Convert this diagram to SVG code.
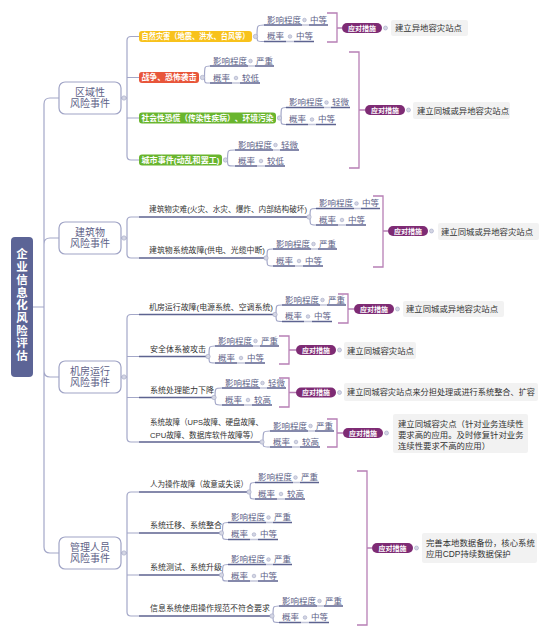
<svg xmlns="http://www.w3.org/2000/svg" width="553" height="638" viewBox="0 0 553 638">
<style>
text{font-family:'Liberation Sans','Noto Sans CJK SC',sans-serif;dominant-baseline:central}
.root{fill:#5c6496}
.rt{fill:#fff;font-size:11.5px;font-weight:bold;text-anchor:middle}
.l1{fill:#fff;stroke:#a0a4c6;stroke-width:1.2}
.l1t{fill:#5d6187;font-size:10px;text-anchor:middle}
.cb{font-size:8px;fill:#fff;font-weight:bold}
.l2t{font-size:8px;fill:#333}
.lf{font-size:8.5px;fill:#5d6187}
.ul{stroke:#5d6390;stroke-width:1.6;fill:none}
.ull{stroke:#c3c6da;stroke-width:1.6;fill:none}
.ln{stroke:#a3a7c8;stroke-width:1.2;fill:none}
.br{stroke:#b77fb5;stroke-width:1.3;fill:none}
.dot{fill:#d4d6e4;stroke:#a3a7c5;stroke-width:.6}
.pill{fill:#7e2b74}
.pt{font-size:7px;fill:#fff;font-weight:bold;text-anchor:middle}
.gb{fill:#f2f2f2}
.gt{font-size:8.4px;fill:#333}
</style>
<g id="connectors">
<path class="ln" d="M32,307H44V104Q44,98 50,98H59M44,307V244Q44,238 50,238H59M44,307V371Q44,377 50,377H59M44,307V547Q44,553 50,553H59"/>
<path class="ln" d="M121,98H127M139,36.5H131Q127,36.5 127,40.5V156Q127,160 131,160H139M127,77.5H139M127,118H139"/>
<path class="ln" d="M121,238H127M139,217H131Q127,217 127,221V254Q127,258 131,258H139"/>
<path class="ln" d="M121,377H127M139,314.5H131Q127,314.5 127,318.5V438Q127,442 131,442H139M127,356.5H139M127,397.5H139"/>
<path class="ln" d="M121,553H127M139,492H131Q127,492 127,496V612Q127,616 131,616H139M127,533H139M127,575H139"/>
<path class="ul" d="M139,217H308M139,258H265M139,314.5H274M139,356.5H207M139,397.5H213M139,442H261M139,492H248M139,533H220M139,575H220M139,616H271"/>
<path class="ln" d="M264,25C257,25 257,25 257,36.5C257,41.5 257,41.5 264,41.5M210,66C204.5,66 204.5,66 204.5,77.5C204.5,83 204.5,83 210,83M286,107.5C281,107.5 281,107.5 281,118C281,124.5 281,124.5 286,124.5M235,150C227.5,150 227.5,150 227.5,160C227.5,166 227.5,166 235,166M316,208.5C310,208.5 310,208.5 310,217C310,225 310,225 316,225M273,249C267,249 267,249 267,258C267,266 267,266 273,266M282,305C276,305 276,305 276,314.5C276,321.5 276,321.5 282,321.5M215,346C209,346 209,346 209,356.5C209,363 209,363 215,363M222,388C215,388 215,388 215,397.5C215,405 215,405 222,405M270,431C263,431 263,431 263,442C263,447 263,447 270,447M255,482.5C250,482.5 250,482.5 250,492C250,499 250,499 255,499M228,522.5C222.5,522.5 222.5,522.5 222.5,533C222.5,539.5 222.5,539.5 228,539.5M228,564.5C222.5,564.5 222.5,564.5 222.5,575C222.5,581 222.5,581 228,581M279,606C273,606 273,606 273,616C273,622.5 273,622.5 279,622.5"/>
<path class="ul" d="M264,25H302M309,25H328M264,41.5H286M294,41.5H314
M210,66H248M255,66H274M210,83H232M240,83H260
M286,107.5H324M331,107.5H350M286,124.5H308M316,124.5H336
M235,150H273M280,150H299M235,166H257M265,166H285
M316,208.5H354M361,208.5H380M316,225H338M346,225H366
M273,249H311M318,249H337M273,266H295M303,266H323
M282,305H320M327,305H346M282,321.5H304M312,321.5H332
M215,346H253M260,346H279M215,363H237M245,363H265
M222,388H260M267,388H286M222,405H244M252,405H272
M270,431H308M315,431H334M270,447H292M300,447H320
M255,482.5H293M300,482.5H319M255,499H277M285,499H305
M228,522.5H266M273,522.5H292M228,539.5H250M258,539.5H278
M228,564.5H266M273,564.5H292M228,581H250M258,581H278
M279,606H317M324,606H343M279,622.5H301M309,622.5H329"/>
<path class="ull" d="M302,25H309M286,41.5H294M248,66H255M232,83H240M324,107.5H331M308,124.5H316M273,150H280M257,166H265M354,208.5H361M338,225H346M311,249H318M295,266H303M320,305H327M304,321.5H312M253,346H260M237,363H245M260,388H267M244,405H252M308,431H315M292,447H300M293,482.5H300M277,499H285M266,522.5H273M250,539.5H258M266,564.5H273M250,581H258M317,606H324M301,622.5H309"/>
<path class="br" d="M327,13H337V42H327M337,28H342"/>
<path class="br" d="M349,52H359V168H349M359,110H365"/>
<path class="br" d="M373,196H383V267H373M383,231H388"/>
<path class="br" d="M338,294H348V323H338M348,309H354"/>
<path class="br" d="M279,336H289V364H279M289,350H296"/>
<path class="br" d="M279,378H289V407H279M289,392.5H296"/>
<path class="br" d="M327,419H337V447H327M337,433H343"/>
<path class="br" d="M357,471H367V625H357M367,548H372"/>
</g>
<g id="root">
<rect class="root" x="11" y="237" width="22" height="140" rx="4"/>
<text class="rt"><tspan x="22" y="254">企</tspan><tspan x="22" y="267">业</tspan><tspan x="22" y="280">信</tspan><tspan x="22" y="292.5">息</tspan><tspan x="22" y="305">化</tspan><tspan x="22" y="318">风</tspan><tspan x="22" y="330.5">险</tspan><tspan x="22" y="343">评</tspan><tspan x="22" y="356">估</tspan></text>
</g>
<g id="n-region">
<rect class="l1" x="59" y="82" width="62" height="32" rx="6"/>
<text class="l1t" x="90" y="92.5">区域性</text><text class="l1t" x="90" y="103.5">风险事件</text>
<circle class="dot" cx="124" cy="98" r="2.2"/>
</g>
<g id="n-building">
<rect class="l1" x="59" y="222" width="62" height="32" rx="6"/>
<text class="l1t" x="90" y="232.5">建筑物</text><text class="l1t" x="90" y="243.5">风险事件</text>
<circle class="dot" cx="124" cy="238" r="2.2"/>
</g>
<g id="n-room">
<rect class="l1" x="59" y="361" width="62" height="32" rx="6"/>
<text class="l1t" x="90" y="371.5">机房运行</text><text class="l1t" x="90" y="382.5">风险事件</text>
<circle class="dot" cx="124" cy="377" r="2.2"/>
</g>
<g id="n-people">
<rect class="l1" x="59" y="537" width="62" height="32" rx="6"/>
<text class="l1t" x="90" y="547.5">管理人员</text><text class="l1t" x="90" y="558.5">风险事件</text>
<circle class="dot" cx="124" cy="553" r="2.2"/>
</g>
<g id="n-a">
<rect x="139" y="31" width="113" height="11" rx="3" fill="#f8c21c"/>
<text class="cb" x="141.5" y="36.5" textLength="108" lengthAdjust="spacingAndGlyphs">自然灾害（地震、洪水、台风等）</text>
<circle class="dot" cx="255.5" cy="36.5" r="2.2"/>
</g>
<g id="n-b1">
<rect x="139" y="72" width="60" height="11" rx="3" fill="#e8553a"/>
<text class="cb" x="141.5" y="77.5" textLength="55" lengthAdjust="spacingAndGlyphs">战争、恐怖袭击</text>
<circle class="dot" cx="202.5" cy="77.5" r="2.2"/>
</g>
<g id="n-b2">
<rect x="139" y="112.5" width="137" height="11" rx="3" fill="#69b52e"/>
<text class="cb" x="141.5" y="118" textLength="132" lengthAdjust="spacingAndGlyphs">社会性恐慌（传染性疾病）、环境污染</text>
<circle class="dot" cx="279.5" cy="118" r="2.2"/>
</g>
<g id="n-b3">
<rect x="139" y="154.5" width="83" height="11" rx="3" fill="#69b52e"/>
<text class="cb" x="141.5" y="160" textLength="78" lengthAdjust="spacingAndGlyphs">城市事件(动乱和罢工)</text>
<circle class="dot" cx="225.5" cy="160" r="2.2"/>
</g>
<g id="n-c1"><text class="l2t" x="149" y="209.5" textLength="158" lengthAdjust="spacingAndGlyphs">建筑物灾难(火灾、水灾、爆炸、内部结构破坏)</text><circle class="dot" cx="309" cy="217" r="2.2"/></g>
<g id="n-c2"><text class="l2t" x="149" y="250.5" textLength="116" lengthAdjust="spacingAndGlyphs">建筑物系统故障(供电、光缆中断)</text><circle class="dot" cx="266" cy="258" r="2.2"/></g>
<g id="n-d1"><text class="l2t" x="149" y="307" textLength="124" lengthAdjust="spacingAndGlyphs">机房运行故障(电源系统、空调系统)</text><circle class="dot" cx="275" cy="314.5" r="2.2"/></g>
<g id="n-d2"><text class="l2t" x="150" y="349">安全体系被攻击</text><circle class="dot" cx="208" cy="356.5" r="2.2"/></g>
<g id="n-d3"><text class="l2t" x="150" y="390">系统处理能力下降</text><circle class="dot" cx="214" cy="397.5" r="2.2"/></g>
<g id="n-d4"><text class="l2t" x="150" y="422" textLength="113" lengthAdjust="spacingAndGlyphs">系统故障（UPS故障、硬盘故障、</text><text class="l2t" x="150" y="435" textLength="108" lengthAdjust="spacingAndGlyphs">CPU故障、数据库软件故障等）</text><circle class="dot" cx="262" cy="442" r="2.2"/></g>
<g id="n-e1"><text class="l2t" x="150" y="484.5" textLength="98" lengthAdjust="spacingAndGlyphs">人为操作故障（故意或失误）</text><circle class="dot" cx="249" cy="492" r="2.2"/></g>
<g id="n-e2"><text class="l2t" x="150" y="525.5">系统迁移、系统整合</text><circle class="dot" cx="221.5" cy="533" r="2.2"/></g>
<g id="n-e3"><text class="l2t" x="150" y="567.5">系统测试、系统升级</text><circle class="dot" cx="221.5" cy="575" r="2.2"/></g>
<g id="n-e4"><text class="l2t" x="150" y="608.5">信息系统使用操作规范不符合要求</text><circle class="dot" cx="272" cy="616" r="2.2"/></g>
<g id="leaves-a"><text class="lf" x="267" y="19.5">影响程度</text><circle class="dot" cx="304.5" cy="20" r="1.8"/><text class="lf" x="310" y="19.5">中等</text><text class="lf" x="267" y="36">概率</text><circle class="dot" cx="290" cy="36.5" r="1.8"/><text class="lf" x="296" y="36">中等</text></g>
<g id="leaves-b1"><text class="lf" x="213" y="60.5">影响程度</text><circle class="dot" cx="250.5" cy="61" r="1.8"/><text class="lf" x="256" y="60.5">严重</text><text class="lf" x="213" y="77.5">概率</text><circle class="dot" cx="236" cy="78" r="1.8"/><text class="lf" x="242" y="77.5">较低</text></g>
<g id="leaves-b2"><text class="lf" x="289" y="102">影响程度</text><circle class="dot" cx="326.5" cy="102.5" r="1.8"/><text class="lf" x="332" y="102">轻微</text><text class="lf" x="289" y="119">概率</text><circle class="dot" cx="312" cy="119.5" r="1.8"/><text class="lf" x="318" y="119">中等</text></g>
<g id="leaves-b3"><text class="lf" x="238" y="144.5">影响程度</text><circle class="dot" cx="275.5" cy="145" r="1.8"/><text class="lf" x="281" y="144.5">轻微</text><text class="lf" x="238" y="160.5">概率</text><circle class="dot" cx="261" cy="161" r="1.8"/><text class="lf" x="267" y="160.5">较低</text></g>
<g id="leaves-c1"><text class="lf" x="319" y="203">影响程度</text><circle class="dot" cx="356.5" cy="203.5" r="1.8"/><text class="lf" x="362" y="203">中等</text><text class="lf" x="319" y="219.5">概率</text><circle class="dot" cx="342" cy="220" r="1.8"/><text class="lf" x="348" y="219.5">中等</text></g>
<g id="leaves-c2"><text class="lf" x="276" y="243.5">影响程度</text><circle class="dot" cx="313.5" cy="244" r="1.8"/><text class="lf" x="319" y="243.5">严重</text><text class="lf" x="276" y="260.5">概率</text><circle class="dot" cx="299" cy="261" r="1.8"/><text class="lf" x="305" y="260.5">中等</text></g>
<g id="leaves-d1"><text class="lf" x="285" y="299.5">影响程度</text><circle class="dot" cx="322.5" cy="300" r="1.8"/><text class="lf" x="328" y="299.5">严重</text><text class="lf" x="285" y="316">概率</text><circle class="dot" cx="308" cy="316.5" r="1.8"/><text class="lf" x="314" y="316">中等</text></g>
<g id="leaves-d2"><text class="lf" x="218" y="340.5">影响程度</text><circle class="dot" cx="255.5" cy="341" r="1.8"/><text class="lf" x="261" y="340.5">严重</text><text class="lf" x="218" y="357.5">概率</text><circle class="dot" cx="241" cy="358" r="1.8"/><text class="lf" x="247" y="357.5">中等</text></g>
<g id="leaves-d3"><text class="lf" x="225" y="382.5">影响程度</text><circle class="dot" cx="262.5" cy="383" r="1.8"/><text class="lf" x="268" y="382.5">轻微</text><text class="lf" x="225" y="399.5">概率</text><circle class="dot" cx="248" cy="400" r="1.8"/><text class="lf" x="254" y="399.5">较高</text></g>
<g id="leaves-d4"><text class="lf" x="273" y="425.5">影响程度</text><circle class="dot" cx="310.5" cy="426" r="1.8"/><text class="lf" x="316" y="425.5">严重</text><text class="lf" x="273" y="441.5">概率</text><circle class="dot" cx="296" cy="442" r="1.8"/><text class="lf" x="302" y="441.5">较高</text></g>
<g id="leaves-e1"><text class="lf" x="258" y="477">影响程度</text><circle class="dot" cx="295.5" cy="477.5" r="1.8"/><text class="lf" x="301" y="477">严重</text><text class="lf" x="258" y="493.5">概率</text><circle class="dot" cx="281" cy="494" r="1.8"/><text class="lf" x="287" y="493.5">较高</text></g>
<g id="leaves-e2"><text class="lf" x="231" y="517">影响程度</text><circle class="dot" cx="268.5" cy="517.5" r="1.8"/><text class="lf" x="274" y="517">严重</text><text class="lf" x="231" y="534">概率</text><circle class="dot" cx="254" cy="534.5" r="1.8"/><text class="lf" x="260" y="534">中等</text></g>
<g id="leaves-e3"><text class="lf" x="231" y="559">影响程度</text><circle class="dot" cx="268.5" cy="559.5" r="1.8"/><text class="lf" x="274" y="559">严重</text><text class="lf" x="231" y="575.5">概率</text><circle class="dot" cx="254" cy="576" r="1.8"/><text class="lf" x="260" y="575.5">中等</text></g>
<g id="leaves-e4"><text class="lf" x="282" y="600.5">影响程度</text><circle class="dot" cx="319.5" cy="601" r="1.8"/><text class="lf" x="325" y="600.5">严重</text><text class="lf" x="282" y="617">概率</text><circle class="dot" cx="305" cy="617.5" r="1.8"/><text class="lf" x="311" y="617">中等</text></g>
<g id="m-a"><rect class="pill" x="342" y="23" width="40" height="10" rx="5"/><text class="pt" x="362" y="28">应对措施</text><circle class="dot" cx="385.5" cy="28" r="2"/><rect class="gb" x="391" y="20" width="77" height="16" rx="2"/><text class="gt" x="395" y="28">建立异地容灾站点</text></g>
<g id="m-b"><rect class="pill" x="365" y="105" width="40" height="10" rx="5"/><text class="pt" x="385" y="110">应对措施</text><circle class="dot" cx="408.5" cy="110" r="2"/><rect class="gb" x="413" y="102" width="97" height="17" rx="2"/><text class="gt" x="417" y="110.5">建立同城或异地容灾站点</text></g>
<g id="m-c"><rect class="pill" x="388" y="226" width="40" height="10" rx="5"/><text class="pt" x="408" y="231">应对措施</text><circle class="dot" cx="431.5" cy="231" r="2"/><rect class="gb" x="438" y="223" width="101" height="17" rx="2"/><text class="gt" x="441" y="231.5">建立同城或异地容灾站点</text></g>
<g id="m-d1"><rect class="pill" x="354" y="304" width="40" height="10" rx="5"/><text class="pt" x="374" y="309">应对措施</text><circle class="dot" cx="397.5" cy="309" r="2"/><rect class="gb" x="403" y="301" width="101" height="16" rx="2"/><text class="gt" x="406" y="309">建立同城或异地容灾站点</text></g>
<g id="m-d2"><rect class="pill" x="296" y="345" width="40" height="10" rx="5"/><text class="pt" x="316" y="350">应对措施</text><circle class="dot" cx="339.5" cy="350" r="2"/><rect class="gb" x="344" y="342" width="72" height="17" rx="2"/><text class="gt" x="347" y="350.5">建立同城容灾站点</text></g>
<g id="m-d3"><rect class="pill" x="296" y="387.5" width="40" height="10" rx="5"/><text class="pt" x="316" y="392.5">应对措施</text><circle class="dot" cx="339.5" cy="392.5" r="2"/><rect class="gb" x="344" y="383" width="194" height="18" rx="2"/><text class="gt" x="347" y="392" textLength="188" lengthAdjust="spacingAndGlyphs">建立同城容灾站点来分担处理或进行系统整合、扩容</text></g>
<g id="m-d4"><rect class="pill" x="343" y="428" width="40" height="10" rx="5"/><text class="pt" x="363" y="433">应对措施</text><circle class="dot" cx="386.5" cy="433" r="2"/><rect class="gb" x="393" y="414" width="135" height="39" rx="2"/><text class="gt" x="398" y="424">建立同城容灾点（针对业务连续性</text><text class="gt" x="398" y="435">要求高的应用。及时修复针对业务</text><text class="gt" x="398" y="445.5">连续性要求不高的应用）</text></g>
<g id="m-e"><rect class="pill" x="372" y="543" width="41" height="10" rx="5"/><text class="pt" x="392.5" y="548">应对措施</text><circle class="dot" cx="416.5" cy="548" r="2"/><rect class="gb" x="422" y="533" width="115" height="30" rx="2"/><text class="gt" x="426" y="543">完善本地数据备份，核心系统</text><text class="gt" x="426" y="553.5">应用CDP持续数据保护</text></g>
</svg>
